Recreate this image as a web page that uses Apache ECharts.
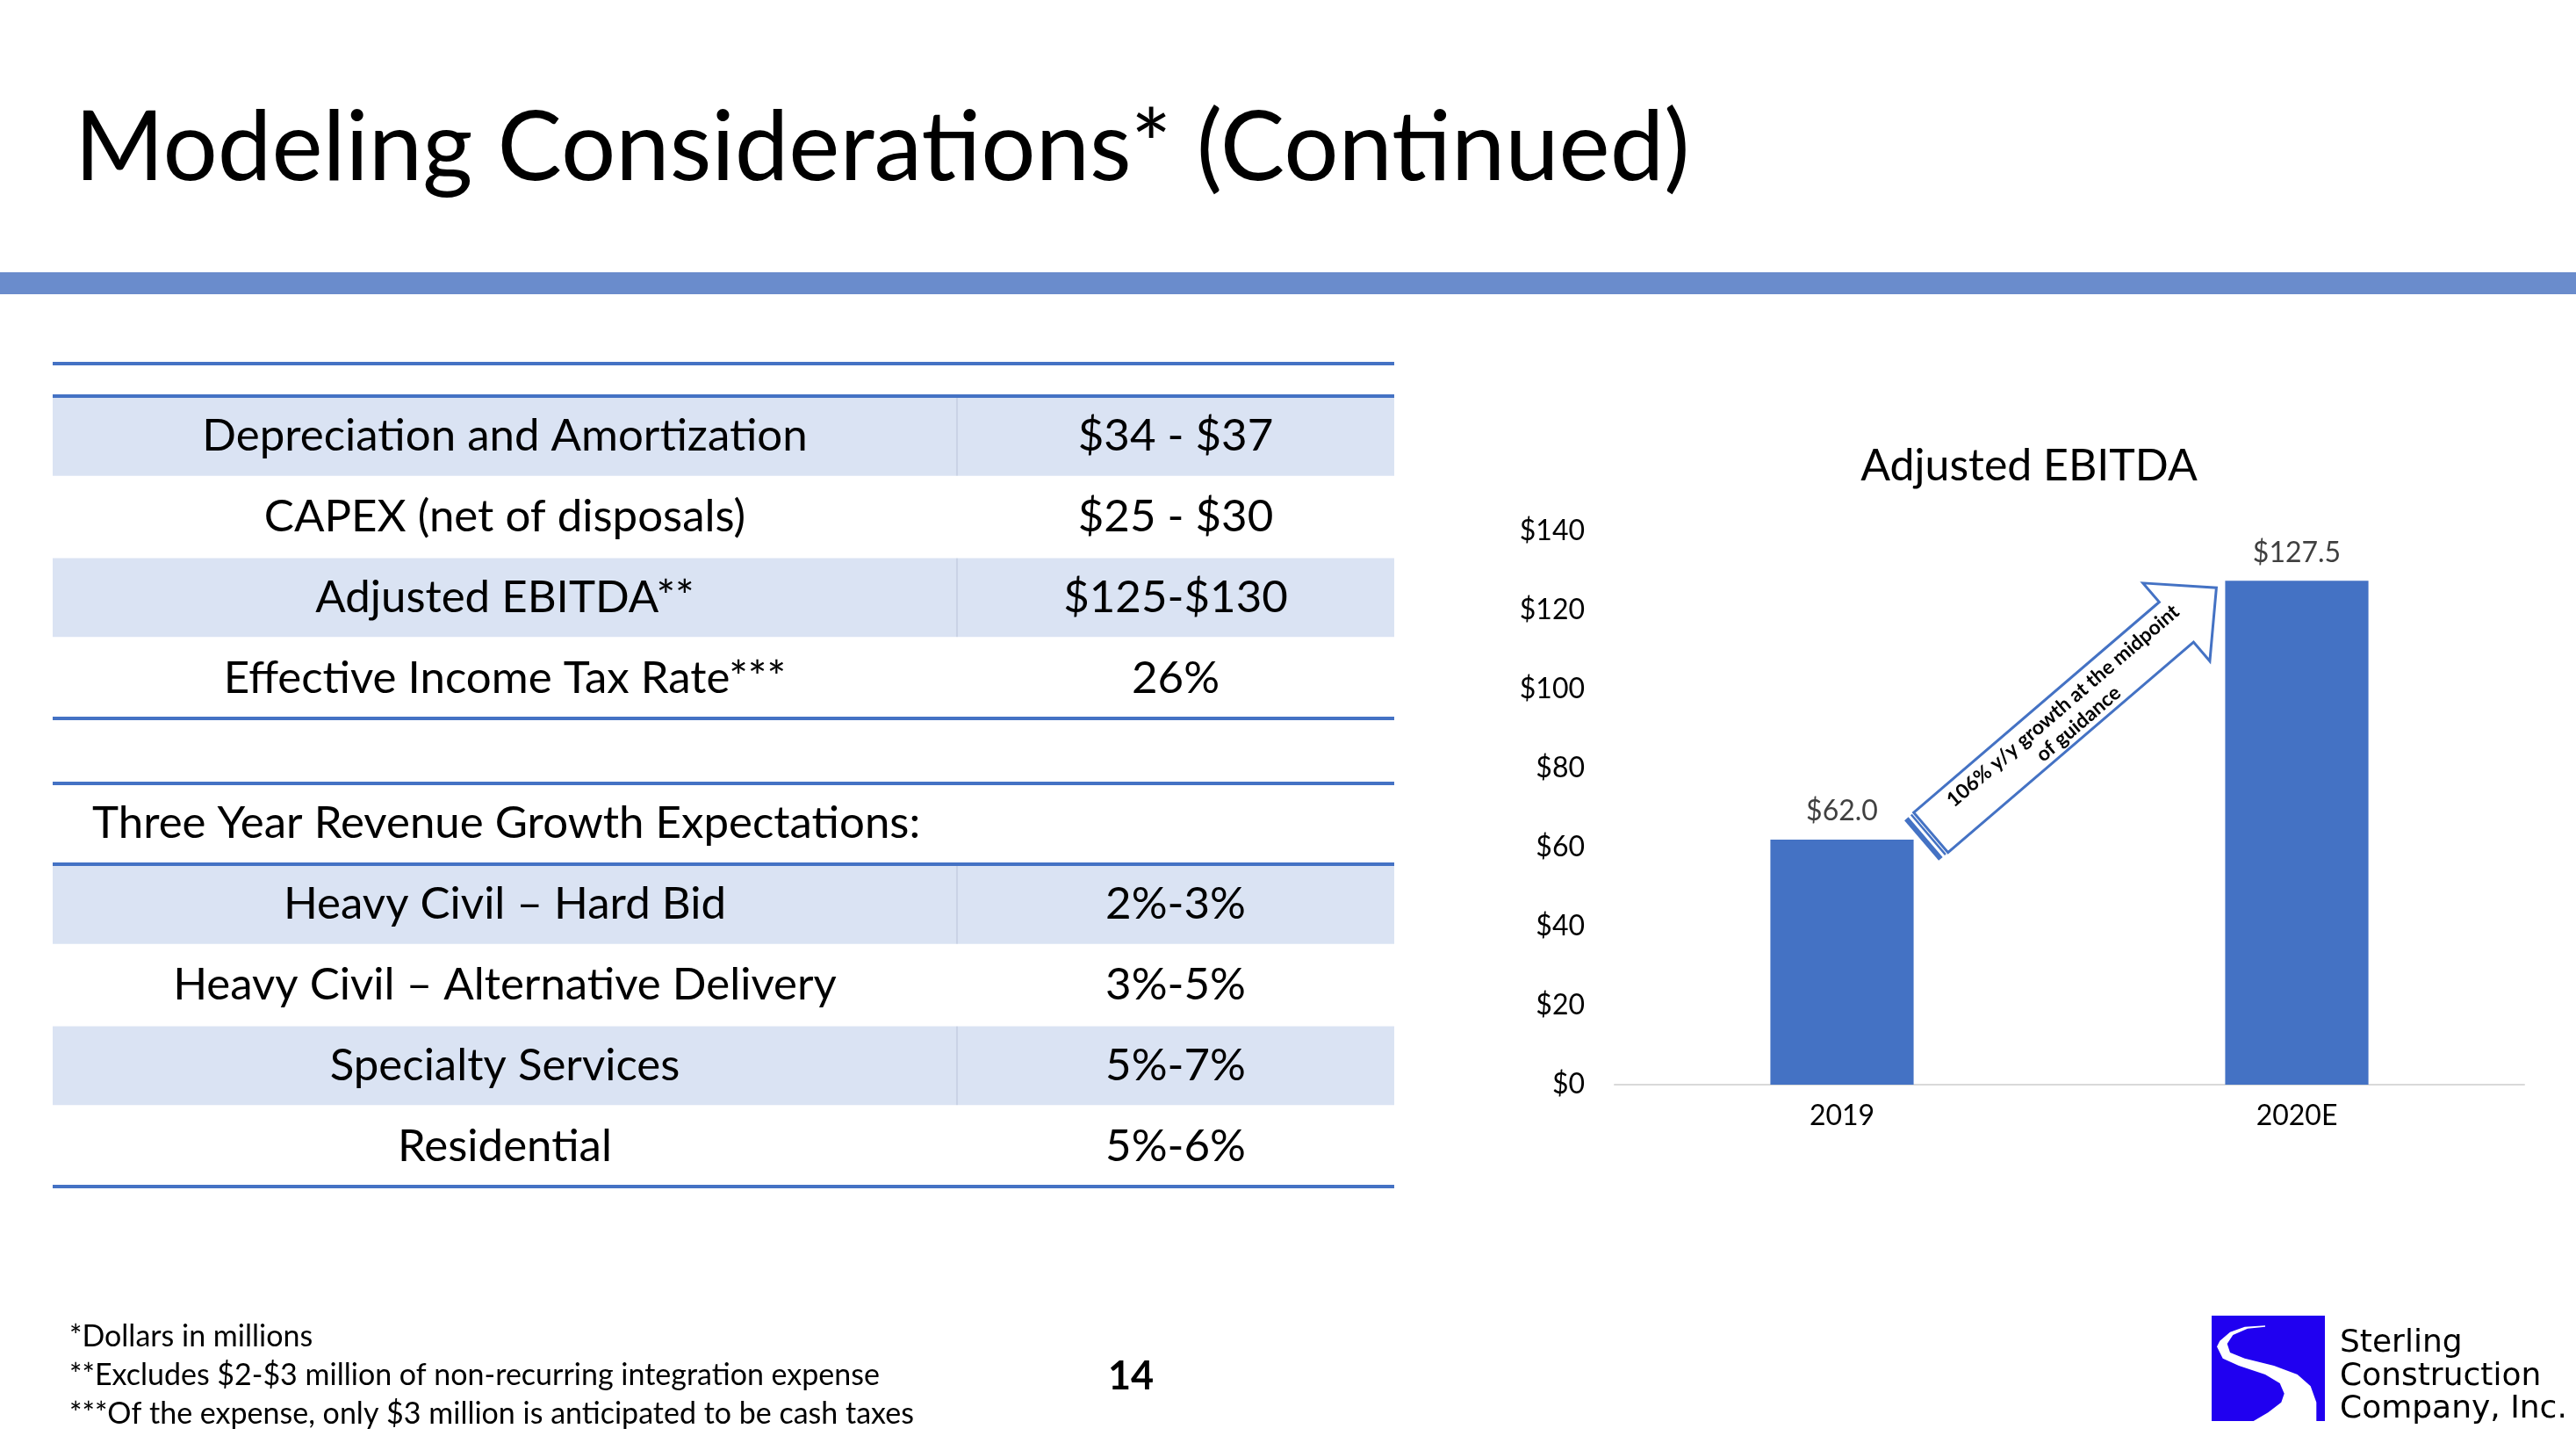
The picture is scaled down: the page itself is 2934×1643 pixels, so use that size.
<!DOCTYPE html>
<html>
<head>
<meta charset="utf-8">
<script src="https://cdn.jsdelivr.net/npm/echarts@6/dist/echarts.min.js"></script>
<style>
html,body{margin:0;padding:0;background:#fff;}
#main{width:2934px;height:1643px;}
</style>
</head>
<body>
<div id="main"></div>
<script>
// ---------- data ----------
const slideTitle = 'Modeling Considerations* (Continued)';
const chartTitle = 'Adjusted EBITDA';
const categories = ['2019', '2020E'];
const ebitda = [62.0, 127.5];
const yMin = 0, yMax = 140, yInterval = 20;
const arrowText = '106% y/y growth at the midpoint\nof guidance';

const table1Labels = ['Depreciation and Amortization', 'CAPEX (net of disposals)', 'Adjusted EBITDA**', 'Effective Income Tax Rate***'];
const table1Values = ['$34 - $37', '$25 - $30', '$125-$130', '26%'];
const table2Header = 'Three Year Revenue Growth Expectations:';
const table2Labels = ['Heavy Civil \u2013 Hard Bid', 'Heavy Civil \u2013 Alternative Delivery', 'Specialty Services', 'Residential'];
const table2Values = ['2%-3%', '3%-5%', '5%-7%', '5%-6%'];

const footnotes = ['*Dollars in millions', '**Excludes $2-$3 million of non-recurring integration expense', '***Of the expense, only $3 million is anticipated to be cash taxes'];
const pageNumber = '14';
const logoLines = ['Sterling', 'Construction', 'Company, Inc.'];

// ---------- styles ----------
const FONT = 'Lato';
const BLUE = '#4472C4';
const SHADE = '#DAE3F3';

const chart = echarts.init(document.getElementById('main'), null, {renderer: 'canvas'});

// ---------- slide decorations (graphic) ----------
const g = [];
g.push({type: 'text', x: 85, y: 170, style: {text: slideTitle, font: '110px ' + FONT, fill: '#000', textAlign: 'left', textVerticalAlign: 'middle'}});
g.push({type: 'rect', shape: {x: 0, y: 310, width: 2934, height: 25}, style: {fill: '#6A8CCC'}});

const tL = 60, tR = 1588, tMid = 1090;
const rowH = 91.75;
function hline(y) {
  return {type: 'rect', shape: {x: tL, y: y - 2, width: tR - tL, height: 4}, style: {fill: BLUE}, z: 5};
}
function cellText(x, y, txt, align) {
  return {type: 'text', x: x, y: y, style: {text: txt, font: '51px ' + FONT, fill: '#000', textAlign: align || 'center', textVerticalAlign: 'middle'}, z: 6};
}
function bodyRows(top, labels, values) {
  labels.forEach((lab, i) => {
    const y0 = top + i * rowH;
    if (i % 2 === 0) {
      g.push({type: 'rect', shape: {x: tL, y: y0, width: tR - tL, height: rowH}, style: {fill: SHADE}, z: 2});
      g.push({type: 'rect', shape: {x: tMid - 1, y: y0, width: 2, height: rowH}, style: {fill: '#C9D3E6'}, z: 3});
    }
    if (i > 0) g.push({type: 'rect', shape: {x: tL, y: y0 - 1, width: tR - tL, height: 2}, style: {fill: '#fff'}, z: 4});
    g.push(cellText((tL + tMid) / 2, y0 + rowH / 2, lab));
    g.push(cellText((tMid + tR) / 2, y0 + rowH / 2, values[i]));
  });
}
// table 1
const t1Top = 451;
bodyRows(t1Top, table1Labels, table1Values);
g.push(hline(414), hline(t1Top), hline(t1Top + rowH * table1Labels.length));
// table 2
const t2HeadTop = 892, t2Top = 984;
g.push(cellText(105, (t2HeadTop + t2Top) / 2, table2Header, 'left'));
bodyRows(t2Top, table2Labels, table2Values);
g.push(hline(t2HeadTop), hline(t2Top), hline(t2Top + rowH * table2Labels.length));

// footnotes
footnotes.forEach((f, i) => {
  g.push({type: 'text', x: 79, y: 1522 + i * 44, style: {text: f, font: '34px ' + FONT, fill: '#000', textAlign: 'left', textVerticalAlign: 'middle'}});
});
g.push({type: 'text', x: 1288, y: 1567, style: {text: pageNumber, font: 'bold 45px ' + FONT, fill: '#000', textAlign: 'center', textVerticalAlign: 'middle'}});

// logo
const lx = 2519, ly = 1498;
g.push({type: 'rect', shape: {x: lx, y: ly, width: 129, height: 120}, style: {fill: '#2000F0'}});
const sw = [[61,11.3],[37.7,12.7],[21,18.7],[9.3,28.7],[6,35.3],[12.7,48.7],[31,57],[61,67],[77.7,77],[82.7,88.7],[79.3,98.7],[64.3,110.3],[47.7,120],[119.3,120],[119.3,98.7],[112.7,80.3],[97.7,67],[71,57],[37.7,48.7],[21,42],[17.7,32],[24.3,22],[41,14.7],[61,12.7]];
g.push({type: 'polygon', shape: {points: sw.map(p => [lx + p[0], ly + p[1]])}, style: {fill: '#fff'}});
logoLines.forEach((t, i) => {
  g.push({type: 'text', x: 2665, y: 1530 + i * 37.5, style: {text: t, font: '36px "DejaVu Sans"', fill: '#000', textAlign: 'left', textVerticalAlign: 'middle'}});
});

// chart title
g.push({type: 'text', x: 2311, y: 531, style: {text: chartTitle, font: '50px ' + FONT, fill: '#000', textAlign: 'center', textVerticalAlign: 'middle'}});

// ---------- chart ----------
const option = {
  animation: false,
  backgroundColor: '#fff',
  grid: {left: 1839, right: 59, top: 605, bottom: 408, containLabel: false},
  xAxis: {
    type: 'category', data: categories,
    axisLine: {show: true, lineStyle: {color: '#D9D9D9', width: 2}},
    axisTick: {show: false},
    axisLabel: {color: '#000', fontFamily: FONT, fontSize: 32, margin: 20}
  },
  yAxis: {
    type: 'value', min: yMin, max: yMax, interval: yInterval,
    axisLine: {show: false}, axisTick: {show: false}, splitLine: {show: false},
    axisLabel: {color: '#000', fontFamily: FONT, fontSize: 32, margin: 34, formatter: v => '$' + v}
  },
  series: [{
    type: 'bar', data: ebitda, barWidth: '31.5%',
    itemStyle: {color: BLUE},
    label: {show: true, position: 'top', distance: 16, color: '#404040', fontFamily: FONT, fontSize: 32,
      formatter: p => '$' + p.value.toFixed(1)}
  }],
  graphic: g
};
chart.setOption(option);

// ---------- annotation arrow anchored to the bars ----------
const p0 = chart.convertToPixel({xAxisIndex: 0, yAxisIndex: 0}, [0, ebitda[0]]);
const p1 = chart.convertToPixel({xAxisIndex: 0, yAxisIndex: 0}, [1, ebitda[1]]);
const catW = p1[0] - p0[0];
const halfBar = catW * 0.315 / 2;
const T = [p0[0] + halfBar + 9, p0[1] + 1];
const Tip = [p1[0] - halfBar - 10, p1[1] + 8];
const dx = Tip[0] - T[0], dy = Tip[1] - T[1];
const L = Math.sqrt(dx * dx + dy * dy);
const rot = -Math.atan2(dy, dx);
const hw = 30, headHW = 58.5, headL = 60, bodyStart = 14;
const arrow = {
  type: 'group', x: T[0], y: T[1], rotation: rot, z: 20,
  children: [
    {type: 'rect', shape: {x: 0, y: -hw, width: 6, height: hw * 2}, style: {fill: BLUE}},
    {type: 'rect', shape: {x: 9, y: -hw, width: 2.5, height: hw * 2}, style: {fill: BLUE}},
    {type: 'polygon', shape: {points: [[bodyStart, -hw], [L - headL, -hw], [L - headL, -headHW], [L, 0], [L - headL, headHW], [L - headL, hw], [bodyStart, hw]]},
      style: {fill: '#fff', stroke: BLUE, lineWidth: 3, lineJoin: 'miter'}},
    {type: 'text', x: (bodyStart + L - headL) / 2 + 24, y: 2,
      style: {text: arrowText, font: 'bold 23px ' + FONT, fill: '#000', textAlign: 'center', textVerticalAlign: 'middle', lineHeight: 27}}
  ]
};
chart.setOption({graphic: g.concat([arrow])});
</script>
</body>
</html>
